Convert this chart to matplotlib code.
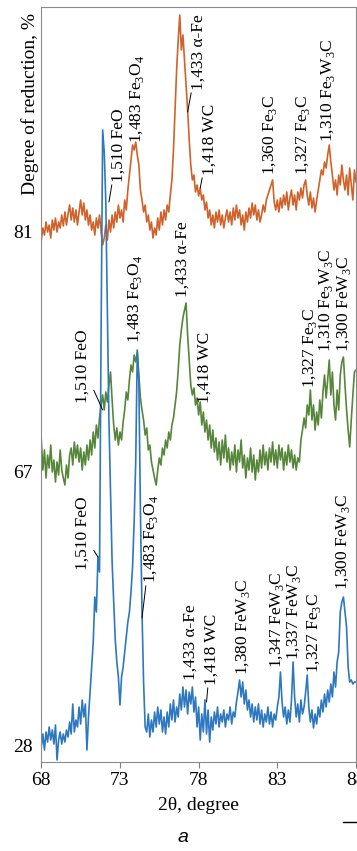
import numpy as np
import matplotlib.pyplot as plt
from matplotlib.lines import Line2D

plt.rcParams['font.family'] = ['Liberation Serif', 'DejaVu Serif']

# diffraction angle grid, degree
two_theta = np.round(np.arange(68.0, 88.05, 0.1), 1)

# intensities (arb. units, stacked), one value per 0.1 degree
reduced_81 = [
    522, 534, 527, 540, 530, 537, 524, 542, 532, 544,
    530, 540, 534, 547, 536, 550, 537, 548, 557, 542,
    554, 540, 552, 537, 550, 562, 547, 559, 542, 552,
    537, 547, 532, 540, 527, 544, 534, 547, 530, 517,
    524, 537, 522, 542, 530, 547, 534, 550, 540, 557,
    544, 552, 540, 562, 552, 572, 587, 602, 617, 612,
    620, 607, 597, 572, 562, 550, 557, 540, 547, 532,
    540, 524, 534, 527, 544, 532, 550, 537, 552, 542,
    557, 550, 567, 582, 612, 652, 692, 722, 747, 712,
    727, 702, 677, 652, 622, 597, 582, 587, 570, 577,
    566, 574, 562, 567, 552, 560, 544, 552, 537, 547,
    534, 550, 540, 552, 537, 547, 534, 544, 552, 540,
    550, 537, 554, 542, 557, 544, 552, 537, 547, 532,
    550, 540, 554, 544, 559, 547, 557, 542, 552, 540,
    547, 557, 550, 562, 567, 572, 577, 582, 560, 552,
    562, 550, 564, 554, 567, 557, 570, 552, 564, 572,
    557, 567, 552, 570, 562, 574, 564, 577, 582, 567,
    557, 570, 554, 564, 550, 562, 572, 582, 592, 587,
    600, 594, 607, 617, 600, 587, 572, 582, 567, 587,
    577, 597, 582, 572, 587, 567, 594, 577, 562, 592,
    580]

reduced_67 = [
    322, 292, 312, 284, 307, 294, 317, 290, 302, 280,
    300, 287, 312, 292, 284, 277, 297, 284, 307, 314,
    297, 320, 304, 317, 300, 314, 292, 310, 297, 317,
    302, 322, 307, 330, 314, 337, 324, 344, 357, 367,
    352, 370, 360, 377, 390, 362, 337, 322, 334, 317,
    330, 322, 340, 352, 370, 362, 382, 397, 390, 407,
    400, 410, 387, 364, 352, 342, 327, 334, 312, 317,
    300, 292, 284, 277, 292, 304, 297, 314, 307, 322,
    314, 330, 322, 337, 344, 357, 370, 392, 417, 432,
    444, 452, 459, 427, 402, 377, 367, 374, 357, 364,
    347, 360, 337, 350, 330, 342, 322, 337, 314, 332,
    310, 324, 302, 320, 297, 322, 304, 327, 300, 314,
    292, 310, 297, 317, 290, 312, 300, 322, 294, 307,
    284, 304, 292, 314, 290, 307, 282, 302, 290, 312,
    294, 317, 297, 310, 292, 314, 300, 320, 297, 312,
    294, 317, 302, 314, 292, 310, 297, 317, 300, 312,
    294, 307, 292, 304, 300, 322, 332, 344, 334, 357,
    347, 372, 342, 357, 332, 350, 337, 362, 344, 370,
    387, 364, 382, 402, 367, 390, 357, 342, 372, 352,
    387, 400, 405, 377, 352, 332, 315, 342, 367, 390,
    392]

reduced_28 = [
    15, 28, 12, 30, 20, 35, 22, 32, 18, 37,
    2, 22, 30, 18, 28, 20, 32, 25, 40, 28,
    58, 30, 42, 35, 55, 38, 62, 45, 58, 12,
    45, 70, 95, 120, 165, 150, 205, 190, 430, 632,
    610, 560, 450, 340, 270, 200, 160, 122, 100, 85,
    57, 85, 95, 110, 125, 140, 150, 170, 195, 240,
    300, 412, 380, 250, 150, 80, 35, 30, 48, 25,
    42, 30, 50, 35, 55, 38, 52, 30, 45, 28,
    50, 35, 58, 42, 62, 40, 55, 45, 68, 52,
    75, 55, 72, 48, 70, 58, 75, 50, 65, 35,
    55, 22, 48, 30, 62, 28, 52, 20, 45, 32,
    50, 38, 55, 35, 48, 40, 52, 35, 48, 42,
    55, 38, 50, 45, 60, 70, 82, 65, 80, 58,
    72, 52, 62, 45, 58, 40, 55, 42, 58, 38,
    52, 35, 48, 40, 55, 38, 50, 35, 48, 42,
    55, 65, 90, 60, 45, 55, 38, 52, 40, 62,
    100, 65, 45, 58, 40, 62, 48, 55, 70, 87,
    55, 40, 52, 34, 48, 38, 55, 45, 62, 50,
    68, 55, 72, 60, 78, 65, 90, 75, 100, 110,
    150, 160, 165, 150, 135, 95, 80, 82, 78, 80,
    80]

xticks = [68, 73, 78, 83, 88]
ytick_pos = [16, 290, 531]
ytick_labels = ['28', '67', '81']

# peak tags: text, (x, y) where the text starts, point the leader goes to (or None)
tags = [
    ('1,510 FeO', 72.9, 580, (72.3, 560)),
    ('1,483 Fe$_\\mathregular{3}$O$_\\mathregular{4}$', 74.1, 619, None),
    ('1,433 α-Fe', 78.0, 672, (77.3, 650)),
    ('1,418 WC', 78.7, 587, (78.1, 574)),
    ('1,360 Fe$_\\mathregular{3}$C', 82.55, 587, None),
    ('1,327 Fe$_\\mathregular{3}$C', 84.65, 587, None),
    ('1,310 Fe$_\\mathregular{3}$W$_\\mathregular{3}$C', 86.25, 620, None),

    ('1,510 FeO', 70.65, 359, (71.9, 352)),
    ('1,483 Fe$_\\mathregular{3}$O$_\\mathregular{4}$', 73.95, 419, None),
    ('1,433 α-Fe', 77.0, 465, None),
    ('1,418 WC', 78.4, 359, None),
    ('1,327 Fe$_\\mathregular{3}$C', 85.1, 374, None),
    ('1,310 Fe$_\\mathregular{3}$W$_\\mathregular{3}$C', 86.1, 410, None),
    ('1,300 FeW$_\\mathregular{3}$C', 87.25, 410, None),

    ('1,510 FeO', 70.65, 192, (71.6, 205)),
    ('1,483 Fe$_\\mathregular{3}$O$_\\mathregular{4}$', 75.0, 179, (74.4, 144)),
    ('1,433 α-Fe', 77.5, 82, None),
    ('1,418 WC', 78.8, 77, (78.5, 60)),
    ('1,380 FeW$_\\mathregular{3}$C', 80.85, 87, None),
    ('1,347 FeW$_\\mathregular{3}$C', 82.95, 94, None),
    ('1,337 FeW$_\\mathregular{3}$C', 84.05, 102, None),
    ('1,327 Fe$_\\mathregular{3}$C', 85.3, 89, None),
    ('1,300 FeW$_\\mathregular{3}$C', 87.2, 172, None),
]

fig = plt.figure(figsize=(3.57, 8.51), dpi=100)
ax = fig.add_axes([41.3 / 357, 89 / 851, 314.7 / 357, 755 / 851])

ax.plot(two_theta, reduced_81, color='#D0622A', lw=1.2)
ax.plot(two_theta, reduced_67, color='#56863A', lw=1.2)
ax.plot(two_theta, reduced_28, color='#2E78C0', lw=1.2)

for txt, xt, yt, pt in tags:
    if pt is None:
        ax.text(xt, yt, txt, rotation=90, ha='center', va='bottom', fontsize=12.5)
    else:
        ax.annotate(txt, xy=pt, xytext=(xt, yt), rotation=90, ha='center',
                    va='bottom', fontsize=12.5,
                    arrowprops=dict(arrowstyle='-', color='black', lw=0.7,
                                    shrinkA=0, shrinkB=0))

ax.set_xlim(68, 88)
ax.set_ylim(0, 755)
ax.set_xticks(xticks)
ax.set_yticks(ytick_pos)
ax.set_yticklabels(ytick_labels)
ax.tick_params(axis='x', direction='out', length=4, width=0.8, color='#808080',
               labelsize=14, pad=3)
ax.tick_params(axis='y', length=0, labelsize=14, pad=6)
for s in ax.spines.values():
    s.set_color('#8a8a8a')
    s.set_linewidth(0.8)

ax.set_xlabel('2θ, degree', fontsize=14, labelpad=6)
fig.text(30 / 357, 1 - 13 / 851, 'Degree of reduction, %', rotation=90,
         ha='center', va='top', fontsize=14)

fig.text(183 / 357, 1 - 838 / 851, 'a', family='Liberation Sans', style='italic',
         fontsize=14, ha='center', va='center')
fig.add_artist(Line2D([343 / 357, 1.0], [1 - 822 / 851] * 2, color='black', lw=1))

fig.savefig('out.png', dpi=100)
